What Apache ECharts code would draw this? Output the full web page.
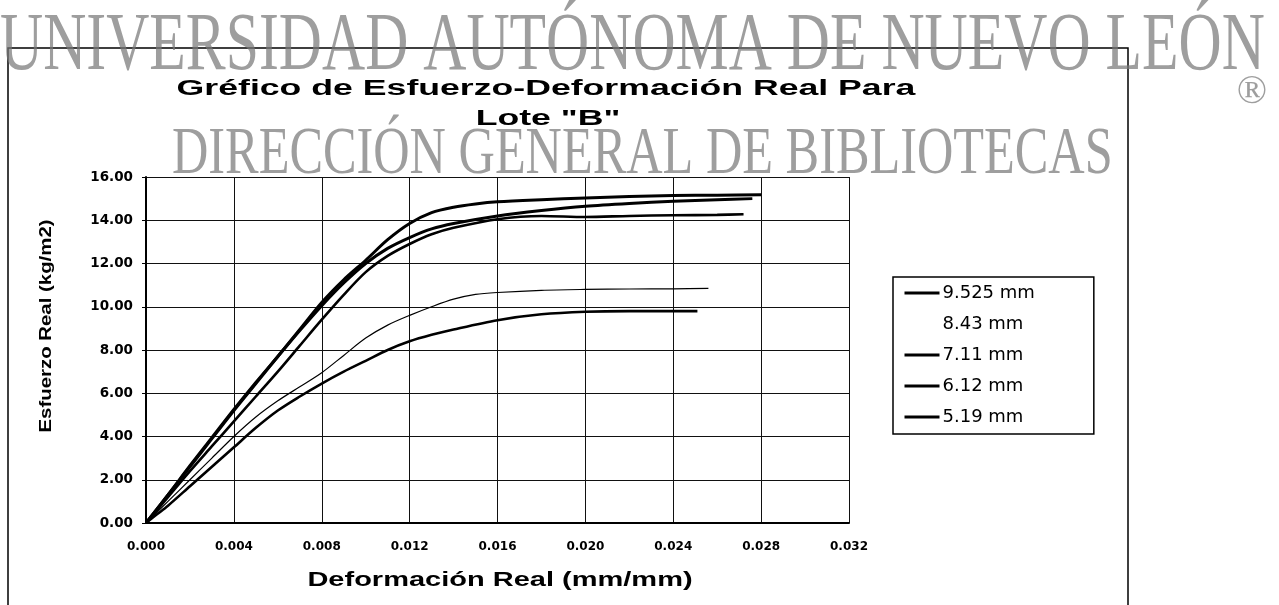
<!DOCTYPE html>
<html>
<head>
<meta charset="utf-8">
<script src="https://cdn.jsdelivr.net/npm/echarts@6.0.0/dist/echarts.min.js"></script>
<style>
  html, body { margin: 0; padding: 0; background: #fff; }
  #chart { width: 1279px; height: 605px; }
</style>
</head>
<body>
<div id="chart"></div>
<script>
// series names as printed in the legend
const seriesNames = ['9.525 mm', '8.43 mm', '7.11 mm', '6.12 mm', '5.19 mm'];

// 9.525 mm
const strainA = [0, 0.001, 0.002, 0.003, 0.004, 0.005, 0.006, 0.007, 0.008, 0.009, 0.010, 0.011, 0.012, 0.013, 0.014, 0.015, 0.016, 0.018, 0.020, 0.022, 0.024, 0.026, 0.028];
const stressA = [0, 1.3, 2.6, 3.9, 5.2, 6.45, 7.7, 8.95, 10.2, 11.25, 12.15, 13.1, 13.85, 14.35, 14.6, 14.75, 14.85, 14.95, 15.03, 15.1, 15.14, 15.16, 15.18];

// 8.43 mm
const strainB = [0, 0.001, 0.002, 0.003, 0.004, 0.005, 0.006, 0.007, 0.008, 0.009, 0.010, 0.011, 0.012, 0.013, 0.014, 0.016, 0.018, 0.020, 0.022, 0.024, 0.026, 0.0276];
const stressB = [0, 1.3, 2.65, 3.95, 5.25, 6.5, 7.7, 8.9, 10.05, 11.1, 12.0, 12.7, 13.2, 13.6, 13.85, 14.2, 14.45, 14.65, 14.78, 14.88, 14.95, 15.0];

// 7.11 mm
const strainC = [0, 0.001, 0.002, 0.003, 0.004, 0.005, 0.006, 0.007, 0.008, 0.009, 0.010, 0.011, 0.012, 0.013, 0.014, 0.016, 0.018, 0.020, 0.022, 0.024, 0.026, 0.0272];
const stressC = [0, 1.2, 2.4, 3.55, 4.7, 5.85, 7.0, 8.2, 9.4, 10.55, 11.6, 12.35, 12.9, 13.35, 13.65, 14.05, 14.2, 14.15, 14.2, 14.23, 14.25, 14.28];

// 6.12 mm
const strainE = [0, 0.0005, 0.001, 0.002, 0.003, 0.004, 0.005, 0.006, 0.007, 0.008, 0.009, 0.010, 0.011, 0.012, 0.013, 0.014, 0.016, 0.018, 0.020, 0.022, 0.024, 0.0251];
const stressE = [0, 0.4, 0.8, 1.7, 2.6, 3.5, 4.4, 5.2, 5.85, 6.45, 7.0, 7.5, 8.0, 8.4, 8.7, 8.95, 9.38, 9.65, 9.77, 9.8, 9.8, 9.8];

// 5.19 mm
const strainD = [0, 0.001, 0.002, 0.003, 0.004, 0.005, 0.006, 0.007, 0.008, 0.009, 0.010, 0.011, 0.012, 0.013, 0.014, 0.015, 0.016, 0.018, 0.020, 0.022, 0.024, 0.0256];
const stressD = [0, 1.0, 2.0, 3.0, 4.0, 4.9, 5.65, 6.3, 6.95, 7.75, 8.55, 9.15, 9.6, 10.0, 10.35, 10.57, 10.66, 10.76, 10.8, 10.82, 10.83, 10.85];

// axis ticks
const xTicks = [0, 0.004, 0.008, 0.012, 0.016, 0.020, 0.024, 0.028, 0.032];
const yTicks = [0, 2, 4, 6, 8, 10, 12, 14, 16];

function pairs(xs, ys) {
  return xs.map(function (x, i) { return [x, ys[i]]; });
}

const chart = echarts.init(document.getElementById('chart'));

const lineWidths = [3, 3, 2.6, 2.6, 1.2];
const seriesData = [
  pairs(strainA, stressA),
  pairs(strainB, stressB),
  pairs(strainC, stressC),
  pairs(strainE, stressE),
  pairs(strainD, stressD)
];

const series = seriesNames.map(function (name, i) {
  return {
    name: name,
    type: 'line',
    data: seriesData[i],
    symbol: 'none',
    smooth: 0.3,
    lineStyle: { color: '#000', width: lineWidths[i] },
    itemStyle: { color: '#000' },
    z: 3
  };
});

const font = '"Liberation Sans", Arial, sans-serif';
const wide = '"DejaVu Sans", "Liberation Sans", sans-serif';
const serif = '"Liberation Serif", "DejaVu Serif", serif';
const mark = 'rgba(120,120,120,0.72)';

chart.setOption({
  animation: false,
  backgroundColor: '#fff',
  grid: { left: 146, right: 430, top: 177, bottom: 82 },
  xAxis: {
    type: 'value',
    min: xTicks[0],
    max: xTicks[xTicks.length - 1],
    interval: 0.004,
    axisLine: { lineStyle: { color: '#000', width: 2 } },
    axisTick: { show: false },
    axisLabel: {
      color: '#000', fontFamily: wide, fontWeight: 'bold', fontSize: 12, margin: 18,
      formatter: function (v) { return v.toFixed(3); }
    },
    splitLine: { show: true, lineStyle: { color: '#111', width: 1 } }
  },
  yAxis: {
    type: 'value',
    min: yTicks[0],
    max: yTicks[yTicks.length - 1],
    interval: 2,
    axisLine: { show: true, lineStyle: { color: '#000', width: 2 } },
    axisTick: { show: true, length: 4, lineStyle: { color: '#000' } },
    axisLabel: {
      color: '#000', fontFamily: wide, fontWeight: 'bold', fontSize: 13.5, margin: 13,
      formatter: function (v) { return v.toFixed(2); }
    },
    splitLine: { show: true, lineStyle: { color: '#111', width: 1 } }
  },
  legend: {
    orient: 'vertical',
    left: 893,
    top: 277,
    padding: [7, 59, 8, 10],
    itemGap: 13,
    itemWidth: 35,
    itemHeight: 14,
    itemStyle: { opacity: 0 },
    lineStyle: { width: 3 },
    borderColor: '#000',
    borderWidth: 1.5,
    textStyle: { fontFamily: wide, fontSize: 18, color: '#000', padding: [0, 0, 0, -2] },
    data: [
      { name: seriesNames[0] },
      { name: seriesNames[1], lineStyle: { opacity: 0 }, itemStyle: { opacity: 0 } },
      { name: seriesNames[2] },
      { name: seriesNames[3] },
      { name: seriesNames[4] }
    ]
  },
  graphic: [
    {
      type: 'rect', z: 1, silent: true,
      shape: { x: 8, y: 48, width: 1120, height: 600 },
      style: { fill: 'none', stroke: '#000', lineWidth: 1.5 }
    },
    {
      type: 'text', z: 10, x: 546, y: 89, scaleX: 1.62,
      style: {
        text: 'Gréfico de Esfuerzo-Deformación Real Para',
        font: 'bold 22px ' + font, fill: '#000',
        textAlign: 'center', textVerticalAlign: 'middle'
      }
    },
    {
      type: 'text', z: 10, x: 548, y: 119, scaleX: 1.62,
      style: {
        text: 'Lote "B"',
        font: 'bold 22px ' + font, fill: '#000',
        textAlign: 'center', textVerticalAlign: 'middle'
      }
    },
    {
      type: 'text', z: 10, x: 500, y: 580, scaleX: 1.45,
      style: {
        text: 'Deformación Real (mm/mm)',
        font: 'bold 20px ' + font, fill: '#000',
        textAlign: 'center', textVerticalAlign: 'middle'
      }
    },
    {
      type: 'text', z: 10, x: 46, y: 326, rotation: Math.PI / 2, scaleX: 1.2,
      style: {
        text: 'Esfuerzo Real (kg/m2)',
        font: 'bold 17px ' + font, fill: '#000',
        textAlign: 'center', textVerticalAlign: 'middle'
      }
    },
    {
      type: 'text', z: 20, x: 0, y: 47, scaleX: 0.72,
      style: {
        text: 'UNIVERSIDAD AUTÓNOMA DE NUEVO LEÓN',
        font: '83px ' + serif, fill: mark,
        textAlign: 'left', textVerticalAlign: 'middle'
      }
    },
    {
      type: 'text', z: 20, x: 172, y: 155, scaleX: 0.74,
      style: {
        text: 'DIRECCIÓN GENERAL DE BIBLIOTECAS',
        font: '68px ' + serif, fill: mark,
        textAlign: 'left', textVerticalAlign: 'middle'
      }
    },
    {
      type: 'text', z: 20, x: 1252, y: 92,
      style: {
        text: '®',
        font: '40px ' + serif, fill: mark,
        textAlign: 'center', textVerticalAlign: 'middle'
      }
    }
  ],
  series: series
});
</script>
</body>
</html>
